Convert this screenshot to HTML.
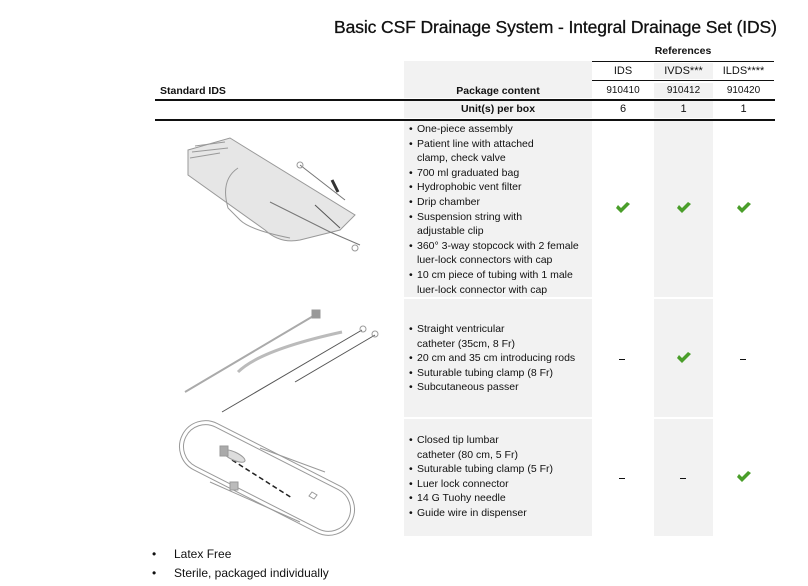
<!DOCTYPE html>
<html><head><meta charset="utf-8"><style>
body{margin:0;width:808px;height:586px;background:#fff;position:relative;overflow:hidden;font-family:"Liberation Sans",sans-serif;color:#111}
.a{position:absolute}
.g{position:absolute;background:#f2f2f2}
.t{position:absolute;font-size:10.5px;white-space:nowrap;line-height:14.6px}
.h{position:absolute;font-size:10.5px;font-weight:bold;white-space:nowrap}
.c{position:absolute;font-size:10.5px;text-align:center;white-space:nowrap}
.ln{position:absolute;background:#111}
.ck{position:absolute;width:16px;height:12px}
</style></head><body>
<div class="a" style="left:334px;top:17px;font-size:17.5px;letter-spacing:-0.1px;white-space:nowrap;color:#111;-webkit-text-stroke:0.3px #111">Basic CSF Drainage System - Integral Drainage Set (IDS)</div>

<!-- gray blocks -->
<div class="g" style="left:404px;top:61px;width:188px;height:37px"></div>
<div class="g" style="left:404px;top:101px;width:188px;height:17px"></div>
<div class="g" style="left:404px;top:121px;width:188px;height:176px"></div>
<div class="g" style="left:404px;top:299px;width:188px;height:118px"></div>
<div class="g" style="left:404px;top:419px;width:188px;height:117px"></div>
<div class="g" style="left:654px;top:63px;width:59px;height:16px"></div>
<div class="g" style="left:654px;top:83px;width:59px;height:15px"></div>
<div class="g" style="left:654px;top:101px;width:59px;height:17px"></div>
<div class="g" style="left:654px;top:121px;width:59px;height:176px"></div>
<div class="g" style="left:654px;top:299px;width:59px;height:118px"></div>
<div class="g" style="left:654px;top:419px;width:59px;height:117px"></div>

<!-- lines -->
<div class="ln" style="left:592px;top:61px;width:182px;height:1px"></div>
<div class="ln" style="left:592px;top:80px;width:182px;height:1px"></div>
<div class="ln" style="left:155px;top:99px;width:620px;height:1.5px"></div>
<div class="ln" style="left:155px;top:119px;width:620px;height:1.5px"></div>

<!-- headers -->
<div class="h" style="left:592px;top:45px;width:182px;text-align:center">References</div>
<div class="c" style="left:592px;top:65px;width:62px;font-size:11px">IDS</div>
<div class="c" style="left:654px;top:65px;width:59px;font-size:11px">IVDS***</div>
<div class="c" style="left:713px;top:65px;width:61px;font-size:11px">ILDS****</div>
<div class="h" style="left:160px;top:85px">Standard IDS</div>
<div class="h" style="left:404px;top:85px;width:188px;text-align:center">Package content</div>
<div class="c" style="left:592px;top:85px;width:62px;font-size:10px">910410</div>
<div class="c" style="left:654px;top:85px;width:59px;font-size:10px">910412</div>
<div class="c" style="left:713px;top:85px;width:61px;font-size:10px">910420</div>
<div class="h" style="left:404px;top:103px;width:188px;text-align:center">Unit(s) per box</div>
<div class="c" style="left:592px;top:103px;width:62px;font-size:11px">6</div>
<div class="c" style="left:654px;top:103px;width:59px;font-size:11px">1</div>
<div class="c" style="left:713px;top:103px;width:61px;font-size:11px">1</div>

<!-- section 1 text -->
<div class="t" style="left:409px;top:122px">•<br>•<br><br>•<br>•<br>•<br>•<br><br>•<br><br>•</div>
<div class="t" style="left:417px;top:122px">One-piece assembly<br>Patient line with attached<br>clamp, check valve<br>700 ml graduated bag<br>Hydrophobic vent filter<br>Drip chamber<br>Suspension string with<br>adjustable clip<br>360° 3-way stopcock with 2 female<br>luer-lock connectors with cap<br>10 cm piece of tubing with 1 male<br>luer-lock connector with cap</div>

<div class="t" style="left:409px;top:322px">•<br><br>•<br>•<br>•</div>
<div class="t" style="left:417px;top:322px">Straight ventricular<br>catheter (35cm, 8 Fr)<br>20 cm and 35 cm introducing rods<br>Suturable tubing clamp (8 Fr)<br>Subcutaneous passer</div>

<div class="t" style="left:409px;top:433px">•<br><br>•<br>•<br>•<br>•</div>
<div class="t" style="left:417px;top:433px">Closed tip lumbar<br>catheter (80 cm, 5 Fr)<br>Suturable tubing clamp (5 Fr)<br>Luer lock connector<br>14 G Tuohy needle<br>Guide wire in dispenser</div>

<!-- checks -->
<svg class="ck" style="left:615px;top:202px" viewBox="0 0 16 12"><path d="M1 6 L6 11 L15 2 L12 0 L6 6 L3 3 Z" fill="#4a9e2a"/></svg>
<svg class="ck" style="left:676px;top:202px" viewBox="0 0 16 12"><path d="M1 6 L6 11 L15 2 L12 0 L6 6 L3 3 Z" fill="#4a9e2a"/></svg>
<svg class="ck" style="left:736px;top:202px" viewBox="0 0 16 12"><path d="M1 6 L6 11 L15 2 L12 0 L6 6 L3 3 Z" fill="#4a9e2a"/></svg>
<svg class="ck" style="left:676px;top:352px" viewBox="0 0 16 12"><path d="M1 6 L6 11 L15 2 L12 0 L6 6 L3 3 Z" fill="#4a9e2a"/></svg>
<svg class="ck" style="left:736px;top:471px" viewBox="0 0 16 12"><path d="M1 6 L6 11 L15 2 L12 0 L6 6 L3 3 Z" fill="#4a9e2a"/></svg>
<div class="ln" style="left:619px;top:359px;width:6px;height:1px"></div>
<div class="ln" style="left:740px;top:359px;width:6px;height:1px"></div>
<div class="ln" style="left:619px;top:478px;width:6px;height:1px"></div>
<div class="ln" style="left:680px;top:478px;width:6px;height:1px"></div>

<!-- illustrations -->
<svg class="a" style="left:150px;top:120px" width="250" height="420" viewBox="0 0 250 420">
<g fill="none" stroke="#999" stroke-width="1">
<path d="M38 30 L80 18 L205 95 L190 110 L150 120 Q130 124 115 110 L38 55 Z" fill="#e6e6e6"/>
<path d="M45 26 L75 22 M42 32 L78 28 M40 38 L70 33" />
<path d="M88 48 Q70 60 78 88 L90 100 Q100 110 140 118"/>
<path d="M150 45 L195 80 M120 82 L180 112 L210 125" stroke="#777"/>
<path d="M165 85 L190 108" stroke="#555"/>
<circle cx="150" cy="45" r="3"/><circle cx="205" cy="128" r="3"/>
<path d="M182 60 L188 72" stroke="#333" stroke-width="3"/>
<path d="M35 272 L165 195" stroke="#aaa" stroke-width="2"/>
<path d="M88 252 Q110 230 192 212" stroke="#bbb" stroke-width="3"/>
<path d="M72 292 L212 210 M145 262 L225 215" stroke="#555"/>
<circle cx="213" cy="209" r="3"/><circle cx="225" cy="214" r="3"/>
<rect x="162" y="190" width="8" height="8" fill="#999"/>
<g transform="rotate(27 117 358)">
<rect x="22" y="332" width="190" height="52" rx="26"/>
<rect x="26" y="336" width="182" height="44" rx="22"/>
</g>
<path d="M82 340 L142 378" stroke="#222" stroke-width="1.5" stroke-dasharray="5,3"/>
<path d="M60 362 L150 402 M110 328 L175 352"/>
<ellipse cx="84" cy="336" rx="12" ry="4" fill="#ddd" transform="rotate(25 84 336)"/>
<rect x="70" y="326" width="8" height="10" fill="#aaa"/>
<rect x="80" y="362" width="8" height="8" fill="#bbb"/>
<path d="M162 372 l5 3 l-3 4 l-5 -3 Z"/>
</g></svg>

<!-- footer bullets -->
<div class="a" style="left:152px;top:545px;font-size:12px;line-height:19px;white-space:nowrap">•<br>•</div>
<div class="a" style="left:174px;top:545px;font-size:12px;line-height:19px;white-space:nowrap">Latex Free<br>Sterile, packaged individually</div>
</body></html>
